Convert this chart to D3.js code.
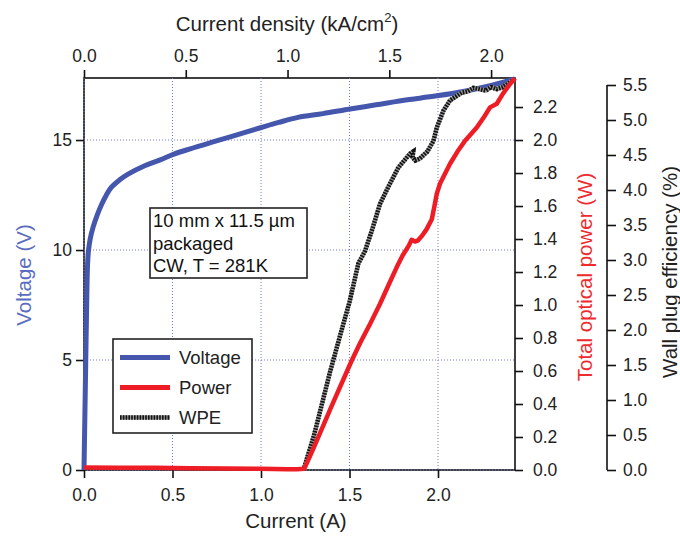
<!DOCTYPE html>
<html>
<head>
<meta charset="utf-8">
<script src="https://cdn.jsdelivr.net/npm/d3@7"></script>
<style>
  html, body { margin: 0; padding: 0; background: #fff; }
  svg { display: block; font-family: "Liberation Sans", Arial, Helvetica, sans-serif; }
</style>
</head>
<body>
<div id="chart"></div>
<script>
// Voltage vs current
const vCurrent = [0, 0.005, 0.01, 0.015, 0.02, 0.025, 0.035, 0.051, 0.075, 0.098, 0.125, 0.154, 0.2, 0.249, 0.343, 0.43, 0.508, 0.6, 0.719, 0.85, 1.002, 1.1, 1.209, 1.35, 1.503, 1.65, 1.8, 1.993, 2.15, 2.294, 2.416, 2.435];
const voltage  = [0, 2.5, 5, 7.5, 9.3, 9.95, 10.5, 11.03, 11.6, 12.05, 12.48, 12.85, 13.18, 13.45, 13.83, 14.1, 14.36, 14.6, 14.89, 15.2, 15.57, 15.8, 16.03, 16.2, 16.41, 16.6, 16.8, 17.01, 17.22, 17.47, 17.73, 17.78];

// Optical power vs current
const pCurrent = [0, 0.2, 0.4, 0.6, 0.8, 1.0, 1.15, 1.2, 1.245, 1.3, 1.4, 1.512, 1.56, 1.616, 1.672, 1.72, 1.767, 1.8, 1.835, 1.851, 1.87, 1.885, 1.91, 1.936, 1.965, 1.98, 1.993, 2.011, 2.068, 2.11, 2.153, 2.219, 2.26, 2.294, 2.332, 2.367, 2.4, 2.435];
const power    = [0.015, 0.014, 0.013, 0.011, 0.009, 0.007, 0.005, 0.004, 0.008, 0.14, 0.39, 0.662, 0.77, 0.885, 1.006, 1.12, 1.23, 1.3, 1.36, 1.395, 1.385, 1.39, 1.42, 1.46, 1.52, 1.6, 1.674, 1.735, 1.856, 1.93, 1.996, 2.076, 2.14, 2.198, 2.22, 2.281, 2.33, 2.375];

// Wall plug efficiency vs current
const wCurrent = [1.24, 1.3, 1.35, 1.39, 1.45, 1.5, 1.55, 1.588, 1.63, 1.672, 1.72, 1.776, 1.842, 1.86, 1.856, 1.872, 1.898, 1.94, 1.974, 1.993, 2.03, 2.068, 2.134, 2.17, 2.2, 2.237, 2.27, 2.3, 2.332, 2.367, 2.407, 2.43];
const wpe      = [0, 0.5, 1.0, 1.4, 1.95, 2.4, 2.95, 3.13, 3.45, 3.8, 4.05, 4.32, 4.52, 4.55, 4.47, 4.42, 4.45, 4.55, 4.70, 4.89, 5.13, 5.28, 5.39, 5.41, 5.46, 5.44, 5.42, 5.47, 5.44, 5.47, 5.54, 5.57];

const currentTicks = [0, 0.5, 1.0, 1.5, 2.0];
const densityTicks = [0, 0.5, 1.0, 1.5, 2.0];
const voltageTicks = [0, 5, 10, 15];
const powerTicks = d3.range(0, 2.21, 0.2);
const wpeTicks = d3.range(0, 5.51, 0.5);
const ampsToDensity = 0.8696; // kA/cm^2 per A for 10 mm x 11.5 um

const legendItems = [
    { label: "Voltage", color: "#4556ad", kind: "solid" },
    { label: "Power", color: "#ee1c25", kind: "solid" },
    { label: "WPE", color: "#111", kind: "wpe" }
];
const noteLines = ["10 mm x 11.5 µm", "packaged", "CW, T = 281K"];

const width = 680, height = 536;
const plot = { left: 84, right: 515, top: 78, bottom: 470 };

const svg = d3.select("#chart").append("svg")
    .attr("width", width)
    .attr("height", height);

const x = d3.scaleLinear().domain([0, 2.435]).range([plot.left, plot.right]);
const xTop = d3.scaleLinear().domain([0, 2.435 * ampsToDensity]).range([plot.left, plot.right]);
const yV = d3.scaleLinear().domain([0, 17.82]).range([plot.bottom, plot.top]);
const yP = d3.scaleLinear().domain([0, 2.376]).range([plot.bottom, plot.top]);
const yW = d3.scaleLinear().domain([0, 5.6]).range([plot.bottom, plot.top]);

// cadre
svg.append("rect")
    .attr("x", plot.left).attr("y", plot.top)
    .attr("width", plot.right - plot.left).attr("height", plot.bottom - plot.top)
    .attr("fill", "none").attr("stroke", "#111").attr("stroke-width", 1.6);

// grille pointillée
const grid = svg.append("g").attr("stroke", "#6c7cd4").attr("stroke-width", 1).attr("stroke-dasharray", "1,2");
currentTicks.forEach(t => {
    grid.append("line").attr("x1", x(t)).attr("x2", x(t)).attr("y1", plot.top).attr("y2", plot.bottom);
});
voltageTicks.forEach(t => {
    grid.append("line").attr("x1", plot.left).attr("x2", plot.right).attr("y1", yV(t)).attr("y2", yV(t));
});

function styleAxis(g, fontSize) {
    g.selectAll(".tick line").attr("stroke", "#111").attr("stroke-width", 1.6);
    g.selectAll(".tick text").attr("fill", "#222").style("font-size", fontSize + "px");
    g.select(".domain").remove();
}

svg.append("g")
    .attr("transform", `translate(0,${plot.bottom})`)
    .call(d3.axisBottom(x).tickValues(currentTicks).tickFormat(d3.format(".1f")).tickSize(8).tickPadding(11))
    .call(g => styleAxis(g, 17.5));

svg.append("g")
    .attr("transform", `translate(0,${plot.top})`)
    .call(d3.axisTop(xTop).tickValues(densityTicks).tickFormat(d3.format(".1f")).tickSize(8).tickPadding(8))
    .call(g => styleAxis(g, 17.5));

svg.append("g")
    .attr("transform", `translate(${plot.left},0)`)
    .call(d3.axisLeft(yV).tickValues(voltageTicks).tickSize(8).tickPadding(4))
    .call(g => styleAxis(g, 17.5));

svg.append("g")
    .attr("transform", `translate(${plot.right},0)`)
    .call(d3.axisRight(yP).tickValues(powerTicks).tickFormat(d3.format(".1f")).tickSize(8).tickPadding(10))
    .call(g => styleAxis(g, 17.5));

const wAxisX = 607;
const wAxis = svg.append("g")
    .attr("transform", `translate(${wAxisX},0)`)
    .call(d3.axisRight(yW).tickValues(wpeTicks).tickFormat(d3.format(".1f")).tickSize(9).tickPadding(7))
    .call(g => styleAxis(g, 17.5));
wAxis.append("line")
    .attr("x1", 0).attr("x2", 0)
    .attr("y1", yW(0)).attr("y2", yW(5.5))
    .attr("stroke", "#111").attr("stroke-width", 1.6);

// titres des axes
svg.append("text")
    .attr("x", 287).attr("y", 31)
    .attr("text-anchor", "middle")
    .style("font-size", "20.5px").attr("fill", "#222")
    .call(t => {
        t.append("tspan").text("Current density (kA/cm");
        t.append("tspan").text("2").attr("dy", -9).style("font-size", "13px");
        t.append("tspan").text(")").attr("dy", 9);
    });

svg.append("text")
    .attr("x", 296).attr("y", 528)
    .attr("text-anchor", "middle")
    .style("font-size", "20.5px").attr("fill", "#222")
    .text("Current (A)");

const rotTitle = (cx, cy, label, color) => svg.append("text")
    .attr("transform", `translate(${cx},${cy}) rotate(-90)`)
    .attr("text-anchor", "middle")
    .attr("dy", "0.35em")
    .style("font-size", "20.5px")
    .attr("fill", color)
    .text(label);

rotTitle(24, 275, "Voltage (V)", "#5b6cc0");
rotTitle(585, 277, "Total optical power (W)", "#ee2a2f");
rotTitle(670, 272, "Wall plug efficiency (%)", "#222");

// courbes
const vData = vCurrent.map((c, i) => ({ c, v: voltage[i] }));
const pData = pCurrent.map((c, i) => ({ c, v: power[i] }));
const wData = wCurrent.map((c, i) => ({ c, v: wpe[i] }));

svg.append("path")
    .datum(vData)
    .attr("fill", "none").attr("stroke", "#4556ad").attr("stroke-width", 5)
    .attr("d", d3.line().x(d => x(d.c)).y(d => yV(d.v)).curve(d3.curveCatmullRom));

const wLine = d3.line().x(d => x(d.c)).y(d => yW(d.v));
svg.append("path")
    .datum(wData)
    .attr("fill", "none").attr("stroke", "#9a9a9a").attr("stroke-width", 4.5)
    .attr("d", wLine);
svg.append("path")
    .datum(wData)
    .attr("fill", "none").attr("stroke", "#111").attr("stroke-width", 4.5)
    .attr("stroke-dasharray", "1.6,1.2")
    .attr("d", wLine);

svg.append("path")
    .datum(pData)
    .attr("fill", "none").attr("stroke", "#ee1c25").attr("stroke-width", 4.5)
    .attr("stroke-linejoin", "round")
    .attr("d", d3.line().x(d => x(d.c)).y(d => yP(d.v)));

// annotation
const note = svg.append("g");
note.append("rect")
    .attr("x", 150).attr("y", 208).attr("width", 157).attr("height", 70)
    .attr("fill", "#fff").attr("stroke", "#222").attr("stroke-width", 1.6);
noteLines.forEach((line, i) => {
    note.append("text")
        .attr("x", 153).attr("y", 227 + i * 22.5)
        .style("font-size", "18.5px").attr("fill", "#111")
        .text(line);
});

// légende
const legend = svg.append("g");
legend.append("rect")
    .attr("x", 113).attr("y", 339).attr("width", 139).attr("height", 94)
    .attr("fill", "#fff").attr("stroke", "#222").attr("stroke-width", 1.6);
legendItems.forEach((item, i) => {
    const ly = 357.5 + i * 30;
    if (item.kind === "wpe") {
        legend.append("line").attr("x1", 120).attr("x2", 170).attr("y1", ly).attr("y2", ly)
            .attr("stroke", "#9a9a9a").attr("stroke-width", 4.5);
        legend.append("line").attr("x1", 120).attr("x2", 170).attr("y1", ly).attr("y2", ly)
            .attr("stroke", "#111").attr("stroke-width", 4.5).attr("stroke-dasharray", "1.6,1.2");
    } else {
        legend.append("line").attr("x1", 120).attr("x2", 170).attr("y1", ly).attr("y2", ly)
            .attr("stroke", item.color).attr("stroke-width", 5);
    }
    legend.append("text")
        .attr("x", 179).attr("y", ly).attr("dy", "0.35em")
        .style("font-size", "18.5px").attr("fill", "#222")
        .text(item.label);
});
</script>
</body>
</html>
